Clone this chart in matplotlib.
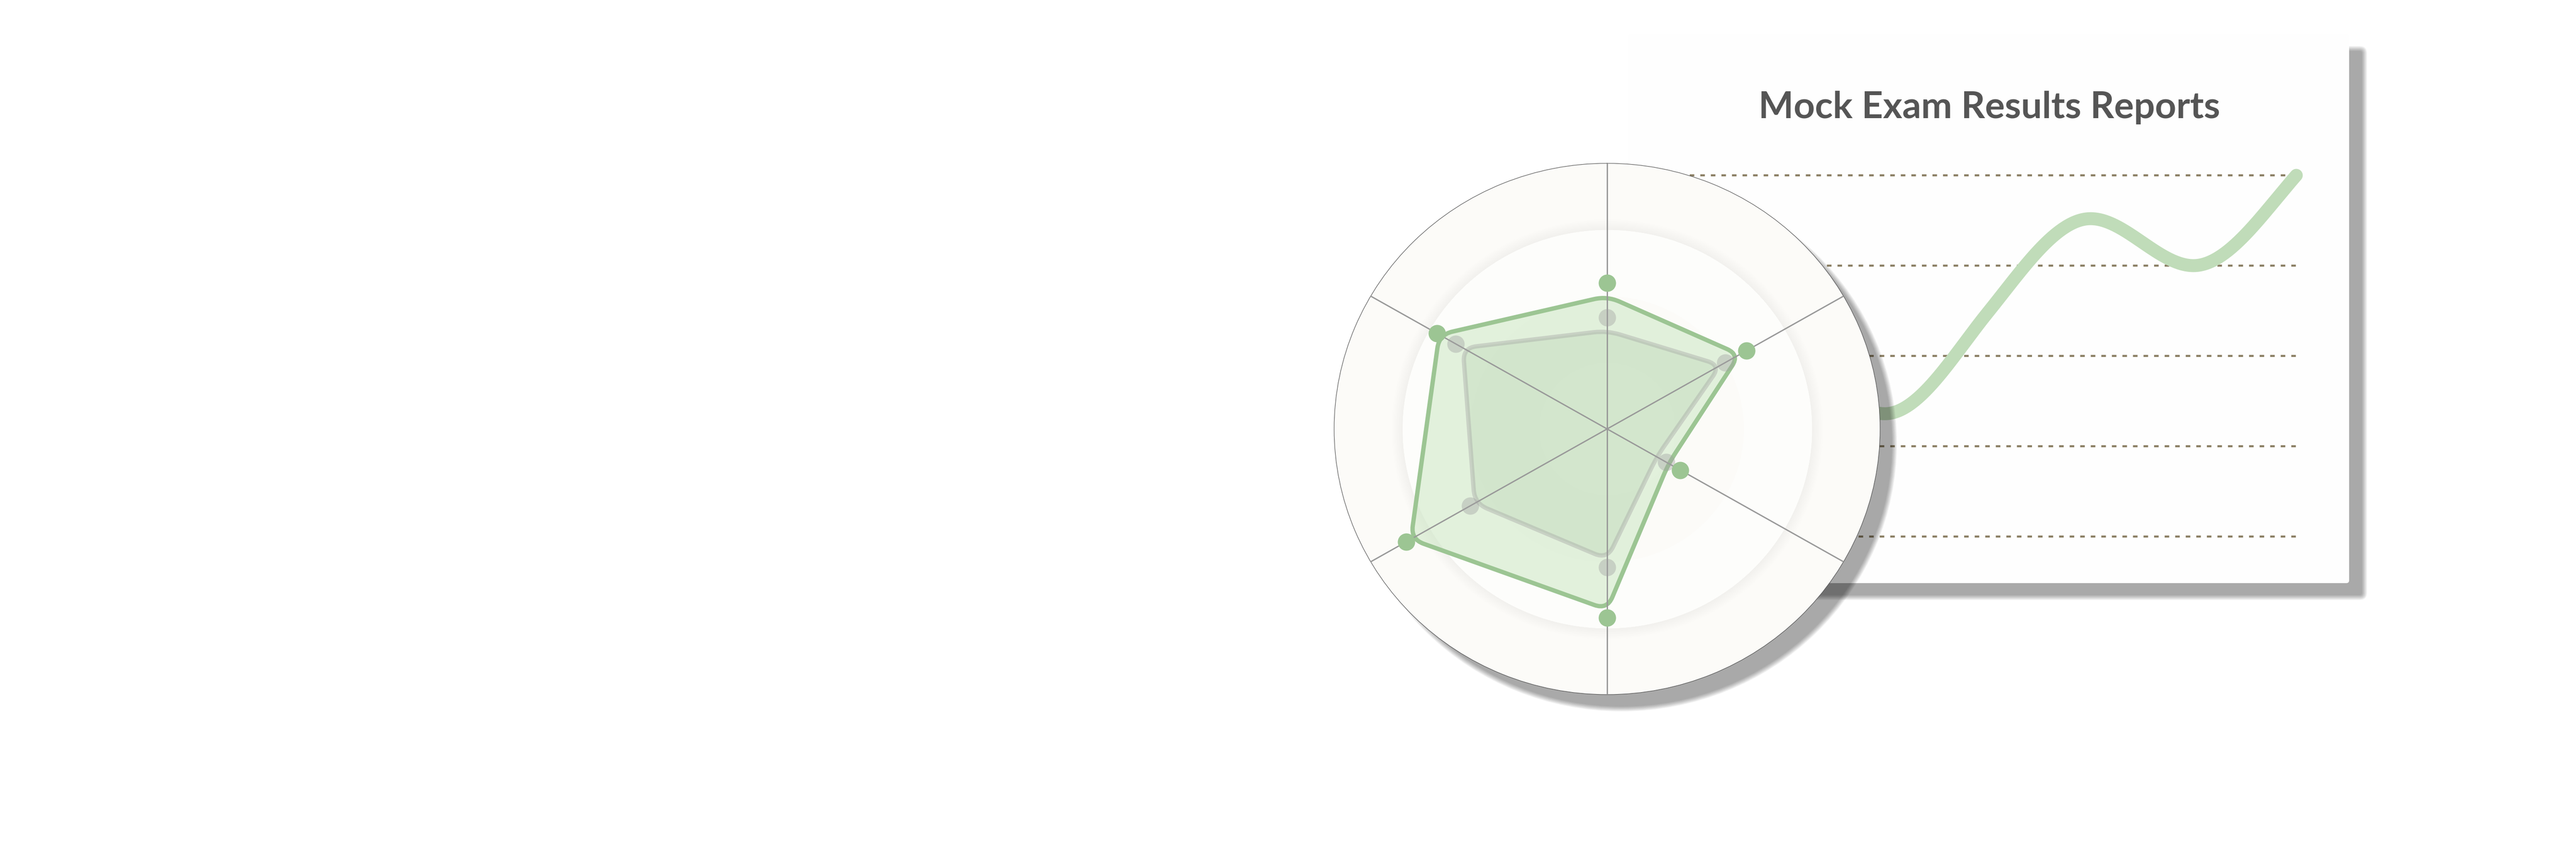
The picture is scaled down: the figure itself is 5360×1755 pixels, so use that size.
import numpy as np
import matplotlib
matplotlib.use("Agg")
import matplotlib.pyplot as plt
from matplotlib import patches
from matplotlib.path import Path
from matplotlib.transforms import IdentityTransform

W, H = 5360, 1756

# radar: six spokes, clockwise from the top, scores out of 100
spoke_count = 6
mock_scores = [55, 59, 31, 71, 85, 72]      # green markers
mock_outline = [50, 56, 26, 68, 83, 71]     # green polygon
prev_scores = [42, 50, 25, 52, 58, 64]      # grey markers
prev_outline = [37, 48, 21, 49, 56, 61]     # grey polygon

# trend line on the report card
trend_rounds = [0, 1, 2, 3, 4, 5, 6]
trend_values = [40, 48, 34, 62, 88, 75, 100]
grid_values = [0, 25, 50, 75, 100]

title = "Mock Exam Results Reports"


def smooth_curve(x, y, tension=1.3, n=60):
    # cubic hermite, flat tangents on local extrema
    x = np.asarray(x, float)
    y = np.asarray(y, float)
    d = np.diff(y) / np.diff(x)
    m = np.zeros_like(y)
    m[0], m[-1] = d[0], d[-1] * tension
    for i in range(1, len(y) - 1):
        if d[i - 1] * d[i] > 0:
            c = tension * (y[i + 1] - y[i - 1]) / (x[i + 1] - x[i - 1])
            lim = 3 * min(abs(d[i - 1]), abs(d[i]))
            m[i] = np.sign(c) * min(abs(c), lim)
    xs, ys = [], []
    t = np.linspace(0, 1, n)
    for i in range(len(x) - 1):
        h = x[i + 1] - x[i]
        h00 = 2 * t**3 - 3 * t**2 + 1
        h10 = t**3 - 2 * t**2 + t
        h01 = -2 * t**3 + 3 * t**2
        h11 = t**3 - t**2
        xs.append(x[i] + t * h)
        ys.append(h00 * y[i] + h10 * h * m[i] + h01 * y[i + 1] + h11 * h * m[i + 1])
    return np.concatenate(xs), np.concatenate(ys)


def rounded_polygon(ax, theta, r, rc=28):
    # polygon through the axes' data transform, corners rounded in pixels
    pts = ax.transData.transform(np.column_stack([theta, r]))
    n = len(pts)
    verts, codes = [], []
    for i in range(n):
        p0, p1, p2 = pts[i - 1], pts[i], pts[(i + 1) % n]
        e1, e2 = p0 - p1, p2 - p1
        k = min(rc, 0.45 * np.linalg.norm(e1), 0.45 * np.linalg.norm(e2))
        a = p1 + k * e1 / np.linalg.norm(e1)
        b = p1 + k * e2 / np.linalg.norm(e2)
        verts.append(a)
        codes.append(Path.MOVETO if i == 0 else Path.LINETO)
        verts += [p1, b]
        codes += [Path.CURVE3, Path.CURVE3]
    verts.append(verts[0])
    codes.append(Path.CLOSEPOLY)
    return Path(verts, codes)


def soft(ax, make, layers=7, alpha=0.33, spread=5):
    a = 1 - (1 - alpha) ** (1 / layers)
    for k in range(layers):
        g = spread * (2 * k / (layers - 1) - 1)
        ax.add_patch(make(g, a))


fig = plt.figure(figsize=(W / 100, H / 100), dpi=100)
fig.patch.set_facecolor("white")

# pixel-space background layer: card, its shadow and the title
bg = fig.add_axes([0, 0, 1, 1], zorder=0)
bg.set_xlim(0, W)
bg.set_ylim(H, 0)
bg.axis("off")

soft(bg, lambda g, a: patches.FancyBboxPatch(
    (3420 - g, 102 - g), 1500 + 2 * g, 1143 + 2 * g,
    boxstyle=f"round,pad=0,rounding_size={max(10 + g, 1)}",
    fc="black", alpha=a, lw=0, zorder=1))
bg.add_patch(patches.FancyBboxPatch((3388, 72), 1500, 1143,
                                    boxstyle="round,pad=0,rounding_size=6",
                                    fc="#fefefe", ec="none", zorder=2))
bg.text(4139, 246, title, ha="center", va="baseline", fontsize=55.5,
        fontweight="bold", family=["Lato", "DejaVu Sans"],
        color="#555555", zorder=3)

# line chart
lc = fig.add_axes([3494 / W, 1 - 1118 / H, (4778 - 3494) / W, (1118 - 366) / H], zorder=1)
lc.patch.set_alpha(0)
lc.set_xlim(trend_rounds[0], trend_rounds[-1])
lc.set_ylim(grid_values[0], grid_values[-1])
for s in lc.spines.values():
    s.set_visible(False)
lc.set_xticks([])
lc.set_yticks(grid_values)
lc.tick_params(length=0, labelleft=False)
lc.grid(axis="y", color="#8b7f64", lw=3.1, linestyle=(0, (2.2, 2.9)))
for gl in lc.get_ygridlines():
    gl.set_clip_on(False)
lx, ly = smooth_curve(trend_rounds, trend_values)
lc.plot(lx, ly, color="#c0dcb9", lw=19.4, solid_capstyle="round",
        clip_on=False, zorder=3)

# shadow of the radar disc
sh = fig.add_axes([0, 0, 1, 1], zorder=2)
sh.set_xlim(0, W)
sh.set_ylim(H, 0)
sh.axis("off")
soft(sh, lambda g, a: patches.Ellipse((3374, 924), 1136 + 2 * g, 1106 + 2 * g,
                                      fc="black", alpha=a, lw=0))

# radar
rad = fig.add_axes([(3344 - 568) / W, 1 - (894 + 553) / H, 1136 / W, 1106 / H],
                   projection="polar", zorder=3)
rad.set_aspect("auto")
rad.set_theta_zero_location("N")
rad.set_theta_direction(-1)
rad.set_ylim(0, 100)
rad.set_facecolor("#fcfbf8")
rad.spines["polar"].set_color("#555555")
rad.spines["polar"].set_linewidth(0.8)
rad.set_xticks([])
rad.set_yticks([])
rad.grid(False)

full = np.linspace(0, 2 * np.pi, 361)
for rr, col in [(75, "#fdfdfb"), (50, "#fcfbf8"), (25, "#fdfdfb")]:
    for k in range(10):
        rad.fill_between(full, rr, rr + 0.4 * (k + 1), color="black", alpha=0.005, lw=0, zorder=0.5)
    rad.fill_between(full, 0, rr, color=col, lw=0, zorder=0.6)

ang = np.deg2rad(np.arange(spoke_count) * 360 / spoke_count)

green_path = rounded_polygon(rad, ang, mock_outline)
grey_path = rounded_polygon(rad, ang, prev_outline)
rad.add_artist(patches.PathPatch(green_path, fc="#c8e6bf", alpha=0.5, lw=0,
                                 transform=IdentityTransform(), zorder=2))
rad.add_artist(patches.PathPatch(green_path, fc="none", ec="#9cc593", lw=6.5,
                                 transform=IdentityTransform(), zorder=3))
rad.add_artist(patches.PathPatch(grey_path, fc="#9fbf98", alpha=0.22, lw=0,
                                 transform=IdentityTransform(), zorder=2.5))
rad.add_artist(patches.PathPatch(grey_path, fc="none", ec=(0.63, 0.63, 0.63, 0.38), lw=6.5,
                                 transform=IdentityTransform(), zorder=3.5))

for a in ang:
    rad.plot([a, a], [0, 100], color="#999999", lw=2, zorder=4)

rad.plot(ang, prev_scores, "o", ms=26, color="#a0a0a0", alpha=0.4, mew=0, zorder=5)
rad.plot(ang, mock_scores, "o", ms=26, color="#9cc593", mew=0, zorder=6)

fig.savefig("out.png", dpi=100, facecolor="white")
